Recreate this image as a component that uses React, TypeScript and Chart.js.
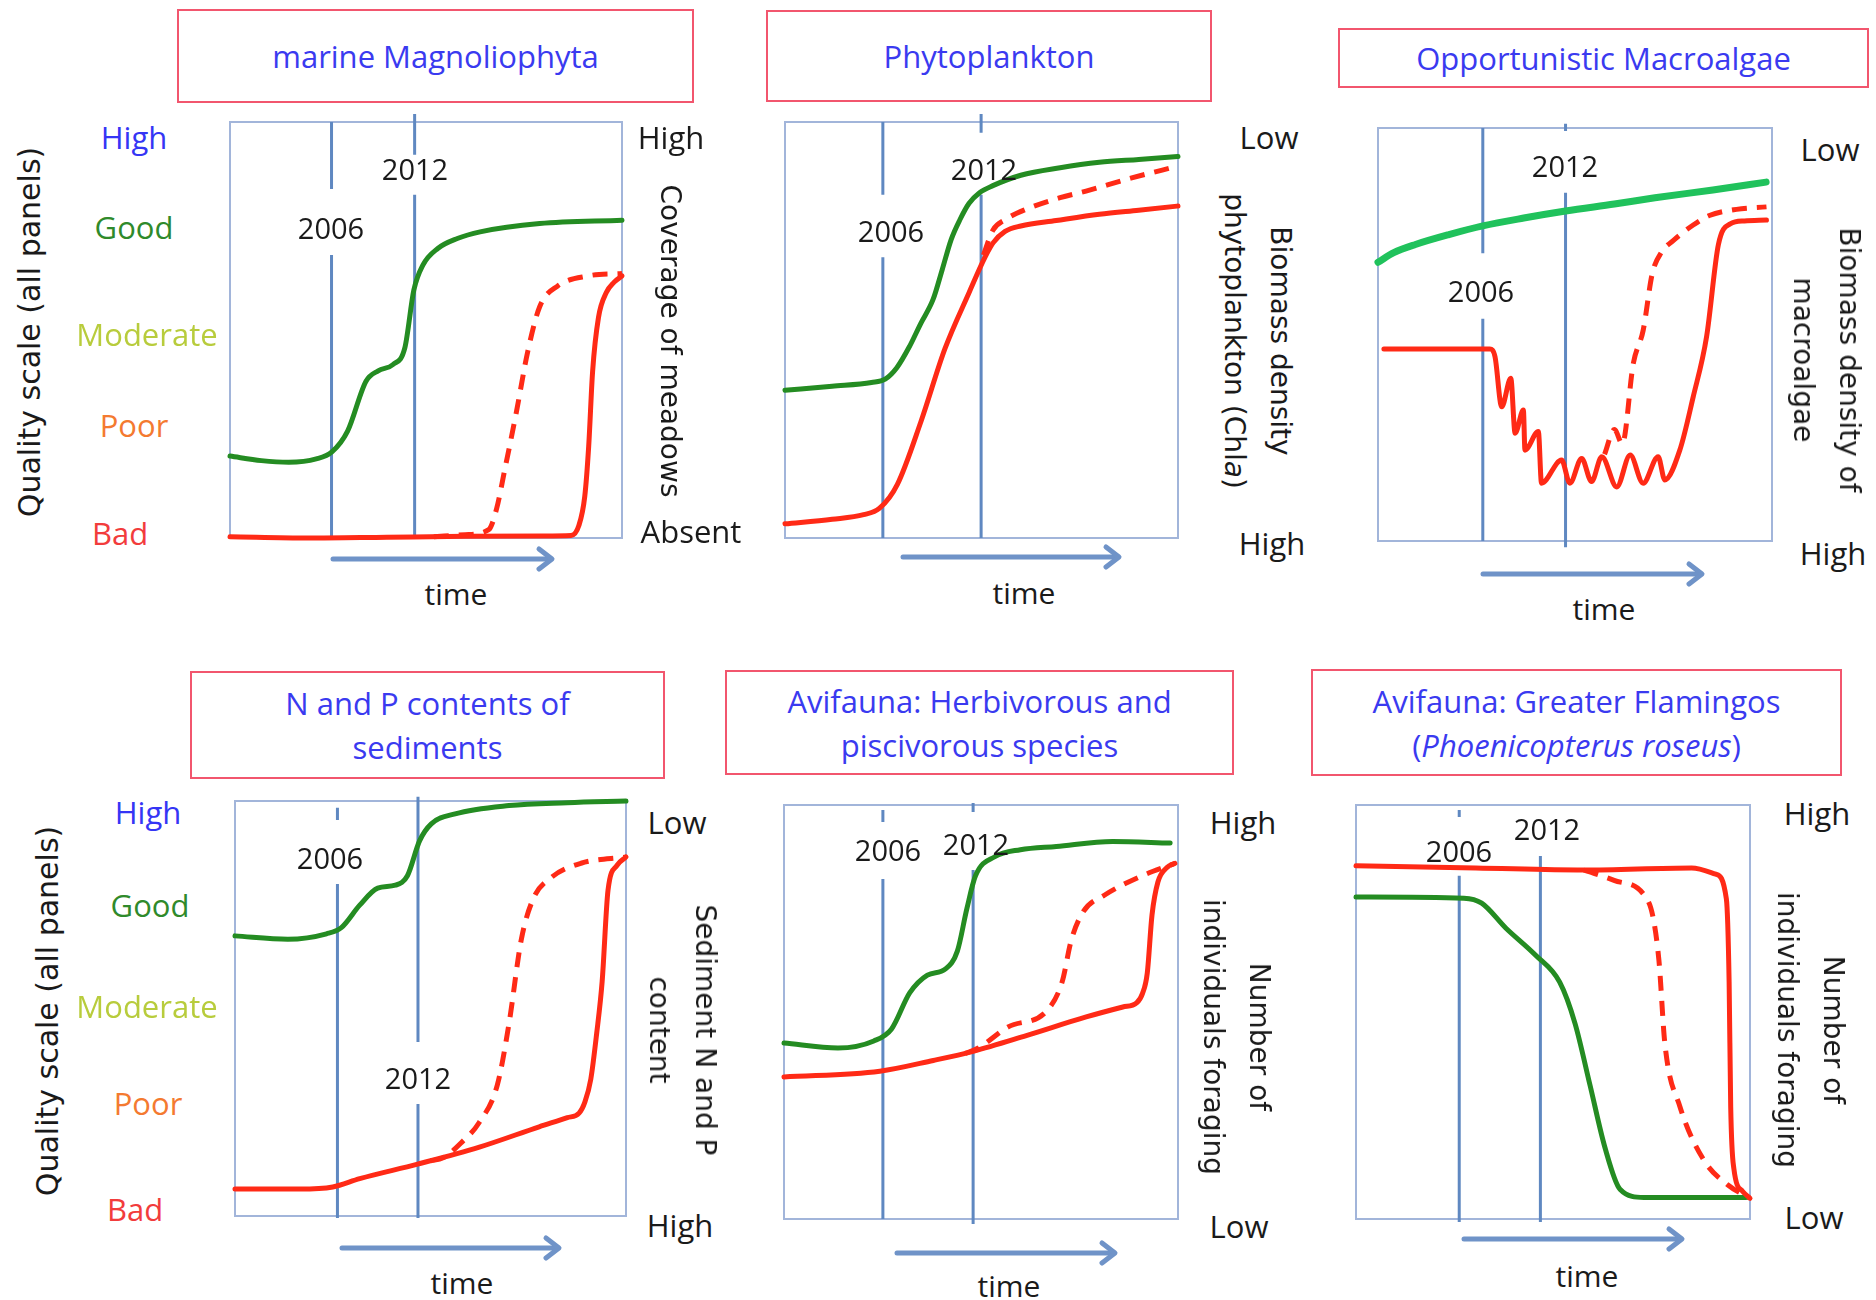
import React, { useEffect, useRef } from "react";
import { Chart, registerables } from "chart.js";
Chart.register(...registerables);

type Pt = [number, number];

// ---------- DATA (x = time 0-100 across panel, y = quality 0-100) ----------
const qualityLevels = ["High", "Good", "Moderate", "Poor", "Bad"];
const yearLabels = ["2006", "2012"];

// Panel 1: marine Magnoliophyta
const magnoGood: Pt[] = [[0, 19.7], [8, 18.6], [15, 18.2], [22, 19], [26, 20.7], [30, 25.7], [34.7, 37.7], [37.8, 40.2], [41.6, 41.7], [44.6, 45.7], [46.9, 59.6], [49.2, 65.6], [53, 69.6], [58, 72], [63.8, 73.6], [79, 75.6], [100, 76.4]];
const magnoBad: Pt[] = [[0, 0.3], [20, 0], [40, 0.2], [60, 0.4], [80, 0.5], [87, 0.6], [89, 3], [90.5, 10], [91.5, 22], [92.5, 40], [94, 53], [96, 59], [98, 61.5], [100, 63]];
const magnoBadAlt: Pt[] = [[52, 0.3], [60, 0.8], [66, 2], [68, 7], [70, 16], [73, 30], [76, 45], [79, 55.6], [83.6, 60.6], [91.3, 63], [100, 63.6]];

// Panel 2: Phytoplankton
const phytoGood: Pt[] = [[0, 35.5], [12, 36.5], [22, 37.4], [25.5, 38.2], [28.5, 41], [31.6, 45.9], [34.5, 51.5], [37.7, 57.4], [40, 64.5], [42.3, 71.8], [44.5, 76.5], [46.8, 80.4], [49.5, 83], [52.9, 84.7], [60, 87.2], [70, 89], [80, 90.3], [90, 91], [100, 91.7]];
const phytoBad: Pt[] = [[0, 3.4], [12, 4.5], [20, 5.6], [24, 7.1], [28.6, 12.9], [34.6, 28], [40.7, 45.5], [46.8, 58.9], [50.9, 67.5], [53, 71], [56, 73.7], [60, 75], [69, 76.3], [80, 77.8], [90, 78.8], [100, 79.8]];
const phytoBadAlt: Pt[] = [[50.5, 68], [52.9, 74], [56, 76.5], [61.3, 79], [70, 81.8], [76.6, 83.4], [88, 86.5], [100, 89.4]];

// Panel 3: Opportunistic Macroalgae
const macroGood: Pt[] = [[0, 67.5], [4, 69.8], [9.5, 71.8], [18, 74.2], [26.6, 76.3], [37, 78.2], [47.6, 79.9], [60, 81.6], [70.3, 83.1], [85, 85], [98.5, 86.9]];
const macroBad: Pt[] = [[1.5, 46.5], [15, 46.5], [28.4, 46.5], [29.7, 44.6], [31.4, 32.5], [33.7, 39.4], [34.8, 26.1], [36.9, 31.7], [37.3, 22], [40.7, 26.5], [41.5, 14], [46.6, 19.6], [48.7, 14], [51.7, 20], [54.2, 14.4], [56.8, 20.4], [60.6, 13.1], [64, 20.8], [67.3, 14], [71.1, 20.4], [72.8, 14.8], [76.6, 22], [80, 34.9], [83.4, 49.5], [86.4, 71.8], [89.4, 76.8], [93, 77.5], [98.6, 77.7]];
const macroBadAlt: Pt[] = [[57.5, 21], [60, 27], [62, 23.5], [64.8, 43], [67.3, 51], [69.6, 64.7], [72, 70], [75, 72.8], [80, 76.5], [84.1, 78.8], [91, 80.3], [98.6, 80.9]];

// Panel 4: N and P contents of sediments
const sedGood: Pt[] = [[0, 67.5], [13.5, 66.7], [23.4, 68], [27.2, 69.5], [31.9, 74.9], [36.5, 79], [41, 79.7], [44.1, 82], [47.2, 90.4], [50.2, 94.5], [56.3, 96.9], [70.1, 98.9], [85, 99.6], [100, 100]];
const sedBad: Pt[] = [[0, 6.5], [16.5, 6.5], [25, 7], [31.9, 9], [46.7, 12.5], [62.5, 16.6], [77.8, 21.5], [85, 23.7], [88, 24.8], [89.5, 27.5], [91, 33], [92.5, 44], [93.9, 56.5], [95.4, 78.5], [97.7, 84.5], [100, 86.5]];
const sedBadAlt: Pt[] = [[50, 13.3], [53.2, 14], [57.8, 17.6], [62.5, 22.6], [67.1, 31.6], [70.1, 46.5], [73.2, 66.5], [76.3, 76.5], [80.8, 81.5], [88.5, 85], [100, 86.5]];

// Panel 5: Avifauna herbivorous / piscivorous
const herbGood: Pt[] = [[0, 42.5], [13.7, 41.3], [22.8, 43], [27.3, 45.9], [31.9, 54.6], [36.4, 58.9], [41, 60.4], [44, 64.7], [46.4, 74.9], [48.6, 82.9], [53.5, 87.5], [60, 89.2], [69.1, 90], [83.4, 91.2], [98, 90.8]];
const herbBad: Pt[] = [[0, 34.3], [24.3, 35.7], [37.9, 38.3], [48, 40.5], [61.5, 44.3], [76.7, 48.8], [86, 51.2], [89.5, 52.2], [91, 54.5], [92.2, 59.4], [93.4, 73.4], [94.9, 81.4], [97.2, 84.9], [99.2, 85.9]];
const herbBadAlt: Pt[] = [[46, 40], [49.3, 41.3], [56.9, 46.4], [66.8, 50.4], [70.6, 57.3], [72.9, 67.3], [76, 74.3], [81.3, 78.2], [90.4, 82.7], [99.2, 85.9]];

// Panel 6: Greater Flamingos
const flamGood: Pt[] = [[0, 77.8], [27.4, 77.5], [31.9, 76.3], [38, 70.3], [45.6, 63.7], [51.7, 57.2], [55.6, 47.2], [59.4, 32.3], [63.2, 17.2], [67, 7.2], [73.1, 5.2], [99, 5.2]];
const flamBad: Pt[] = [[0, 85.3], [30.4, 84.8], [57.8, 84.3], [85.2, 84.8], [91.3, 83.3], [94, 77.3], [94.7, 57.3], [95.1, 27.2], [95.9, 12.2], [98.1, 6.7], [100, 5]];
const flamBadAlt: Pt[] = [[57.8, 84.3], [65.5, 81.8], [73.1, 78.3], [75.3, 73.3], [76.9, 62.3], [78.4, 42.3], [82.2, 27.2], [88.3, 14.2], [94.4, 8.2], [100, 5]];

// Year marker positions (x on the time axis) per panel
const yearsX: Pt[] = [[25.9, 47.1], [24.9, 49.9], [26.6, 47.6], [26.2, 46.8], [25.1, 48.0], [26.2, 46.8]];

// ---------- STYLE ----------
const BLUE_TEXT = "#3a3af0";
const TITLE_BORDER = "#f2566e";
const BOX_COLOR = "#a2b5da";
const YEAR_LINE = "#5f88c1";
const ARROW = "#6f93c8";
const GREEN = "#248c22";
const GREEN_BRIGHT = "#20c25c";
const RED = "#ff2a16";
const QUALITY_COLORS = ["#3535f5", "#2f8a2b", "#b8cc3c", "#f47a30", "#f23c3c"];
const CAL = "'Open Sans', 'Liberation Sans', sans-serif";
const LUC = "'DejaVu Sans', sans-serif";
const M = 20;

interface PanelCfg {
  titleLines: React.ReactNode[];
  titleBox: [number, number, number, number];
  box: [number, number, number, number];
  good: Pt[];
  bad: Pt[];
  badAlt: Pt[];
  goodColor: string;
  goodWidth: number;
  years: Pt;
  yearSegs: [Pt[], Pt[]];
  yearPos: [Pt, Pt];
  rightTop: [string, number, number];
  rightBottom: [string, number, number];
  rotLines: React.ReactNode[];
  rotPos: Pt;
  arrow: [number, number, number];
  time: Pt;
}

const panels: PanelCfg[] = [
  {
    titleLines: ["marine Magnoliophyta"], titleBox: [177, 9, 694, 103], box: [230, 122, 622, 538],
    good: magnoGood, bad: magnoBad, badAlt: magnoBadAlt, goodColor: GREEN, goodWidth: 5,
    years: yearsX[0], yearSegs: [[[100, 83.9], [68, 0]], [[101.9, 92.1], [82.5, 0]]],
    yearPos: [[331, 227], [415, 168]],
    rightTop: ["High", 671, 137], rightBottom: ["Absent", 691, 531],
    rotLines: ["Coverage of meadows"], rotPos: [670, 341], arrow: [333, 552, 559], time: [456, 594],
  },
  {
    titleLines: ["Phytoplankton"], titleBox: [766, 10, 1212, 102], box: [785, 122, 1178, 538],
    good: phytoGood, bad: phytoBad, badAlt: phytoBadAlt, goodColor: GREEN, goodWidth: 5,
    years: yearsX[1], yearSegs: [[[100, 82.5], [67.5, 0]], [[101.9, 97.4], [82.5, 0]]],
    yearPos: [[891, 230], [984, 168]],
    rightTop: ["Low", 1269, 137], rightBottom: ["High", 1272, 543],
    rotLines: ["Biomass density", <span key="c">phytoplankton (Chl<i>a</i>)</span>], rotPos: [1257, 341],
    arrow: [903, 1119, 557], time: [1024, 593],
  },
  {
    titleLines: ["Opportunistic Macroalgae"], titleBox: [1338, 28, 1869, 88], box: [1378, 128, 1772, 541],
    good: macroGood, bad: macroBad, badAlt: macroBadAlt, goodColor: GREEN_BRIGHT, goodWidth: 7,
    years: yearsX[2], yearSegs: [[[100, 69.7], [53.8, 0]], [[101, 99.3], [84.3, -1.5]]],
    yearPos: [[1481, 290], [1565, 165]],
    rightTop: ["Low", 1830, 149], rightBottom: ["High", 1833, 553],
    rotLines: ["Biomass density of", "macroalgae"], rotPos: [1826, 360], arrow: [1483, 1702, 574], time: [1604, 609],
  },
  {
    titleLines: ["N and P contents of", "sediments"], titleBox: [190, 671, 665, 779], box: [235, 801, 626, 1216],
    good: sedGood, bad: sedBad, badAlt: sedBadAlt, goodColor: GREEN, goodWidth: 5,
    years: yearsX[3], yearSegs: [[[98.4, 95.4], [80, -0.5]], [[101, 41.9], [27, -0.5]]],
    yearPos: [[330, 857], [418, 1077]],
    rightTop: ["Low", 677, 822], rightBottom: ["High", 680, 1225],
    rotLines: ["Sediment N and P", "content"], rotPos: [682, 1030], arrow: [342, 559, 1248], time: [462, 1283],
  },
  {
    titleLines: ["Avifauna: Herbivorous and", "piscivorous species"], titleBox: [725, 670, 1234, 775], box: [784, 805, 1178, 1219],
    good: herbGood, bad: herbBad, badAlt: herbBadAlt, goodColor: GREEN, goodWidth: 5,
    years: yearsX[4], yearSegs: [[[98.8, 95.9], [82.1, 0]], [[100.5, 98.3], [84.3, -1.2]]],
    yearPos: [[888, 849], [976, 843]],
    rightTop: ["High", 1243, 822], rightBottom: ["Low", 1239, 1226],
    rotLines: ["Number of", "individuals foraging"], rotPos: [1236, 1037], arrow: [897, 1115, 1253], time: [1009, 1286],
  },
  {
    titleLines: ["Avifauna: Greater Flamingos", <span key="p">(<i>Phoenicopterus roseus</i>)</span>], titleBox: [1311, 669, 1842, 776], box: [1356, 805, 1750, 1219],
    good: flamGood, bad: flamBad, badAlt: flamBadAlt, goodColor: GREEN, goodWidth: 5,
    years: yearsX[5], yearSegs: [[[98.8, 97.1], [82.9, -0.7]], [[87.7, -0.7]]],
    yearPos: [[1459, 850], [1547, 828]],
    rightTop: ["High", 1817, 813], rightBottom: ["Low", 1814, 1217],
    rotLines: ["Number of", "individuals foraging"], rotPos: [1810, 1030], arrow: [1464, 1682, 1239], time: [1587, 1276],
  },
];

const qualityPos: Pt[][] = [
  [[134, 137], [134, 227], [147, 334], [134, 425], [120, 533]],
  [[148, 812], [150, 905], [147, 1006], [148, 1103], [135, 1209]],
];
const qualityTitlePos: Pt[] = [[30, 332], [48, 1011]];

const boxPlugin = {
  id: "panelBox",
  beforeDatasetsDraw(chart: any) {
    const { ctx, chartArea: a } = chart;
    ctx.save();
    ctx.strokeStyle = BOX_COLOR;
    ctx.lineWidth = 2;
    ctx.strokeRect(a.left, a.top, a.right - a.left, a.bottom - a.top);
    ctx.restore();
  },
};

const toXY = (pts: Pt[]) => pts.map(([x, y]) => ({ x, y }));

function PanelChart({ cfg }: { cfg: PanelCfg }) {
  const ref = useRef<HTMLCanvasElement>(null);
  const [l, t, r, b] = cfg.box;
  const w = r - l + 2 * M;
  const h = b - t + 2 * M;
  useEffect(() => {
    const datasets: any[] = [];
    cfg.yearSegs.forEach((segs, i) => {
      const xv = cfg.years[i];
      const pts: any[] = [];
      segs.forEach(([y0, y1], k) => {
        if (k > 0) pts.push({ x: xv, y: null });
        pts.push({ x: xv, y: y0 }, { x: xv, y: y1 });
      });
      datasets.push({ data: pts, borderColor: YEAR_LINE, borderWidth: 3, pointRadius: 0, tension: 0, spanGaps: false, clip: false, order: 10 });
    });
    const curve = (pts: Pt[], color: string, width: number, order: number, dash?: number[]) => ({
      data: toXY(pts), borderColor: color, borderWidth: width, borderDash: dash || [], pointRadius: 0,
      cubicInterpolationMode: "monotone", clip: false, order, borderJoinStyle: "round", borderCapStyle: dash ? "butt" : "round",
    });
    datasets.push(curve(cfg.badAlt, RED, 5, 3, [15, 10]));
    datasets.push(curve(cfg.good, cfg.goodColor, cfg.goodWidth, 2));
    datasets.push(curve(cfg.bad, RED, 5, 1));
    const chart = new Chart(ref.current as HTMLCanvasElement, {
      type: "line",
      data: { datasets },
      options: {
        animation: false,
        responsive: false,
        devicePixelRatio: 1,
        layout: { padding: M },
        scales: {
          x: { type: "linear", min: 0, max: 100, display: false },
          y: { type: "linear", min: 0, max: 100, display: false },
        },
        plugins: { legend: { display: false }, tooltip: { enabled: false } },
        elements: { point: { radius: 0 } },
      } as any,
      plugins: [boxPlugin],
    });
    return () => chart.destroy();
  }, []);
  return (
    <canvas ref={ref} width={w} height={h}
      style={{ position: "absolute", left: l - M, top: t - M, width: w, height: h }} />
  );
}

const abs = (x: number, y: number, extra: React.CSSProperties = {}): React.CSSProperties => ({
  position: "absolute", left: x, top: y, transform: "translate(-50%,-50%)", whiteSpace: "nowrap", lineHeight: 1, ...extra,
});

export default function App() {
  return (
    <div style={{ position: "absolute", left: 0, top: 0, width: 1876, height: 1300, background: "#fff", overflow: "hidden" }}>
      {panels.map((p, i) => {
        const [tl, tt, tr, tb] = p.titleBox;
        return (
          <React.Fragment key={i}>
            <div style={{
              position: "absolute", left: tl, top: tt, width: tr - tl, height: tb - tt, boxSizing: "border-box",
              border: `2px solid ${TITLE_BORDER}`, display: "flex", flexDirection: "column", alignItems: "center",
              justifyContent: "center", color: BLUE_TEXT, fontFamily: CAL, fontSize: 31, lineHeight: "44px",
            }}>
              {p.titleLines.map((ln, k) => <div key={k}>{ln}</div>)}
            </div>
            <PanelChart cfg={p} />
            {p.yearPos.map(([x, y], k) => (
              <div key={k} style={abs(x, y, { fontFamily: CAL, fontSize: 29, color: "#1a1a1a" })}>{yearLabels[k]}</div>
            ))}
            <div style={abs(p.rightTop[1], p.rightTop[2], { fontFamily: CAL, fontSize: 31, color: "#1a1a1a" })}>{p.rightTop[0]}</div>
            <div style={abs(p.rightBottom[1], p.rightBottom[2], { fontFamily: CAL, fontSize: 31, color: "#1a1a1a" })}>{p.rightBottom[0]}</div>
            <div style={abs(p.rotPos[0], p.rotPos[1], {
              transform: "translate(-50%,-50%) rotate(90deg)", fontFamily: LUC, fontSize: 28, lineHeight: "46px",
              textAlign: "center", color: "#1a1a1a",
            })}>
              {p.rotLines.map((ln, k) => <div key={k}>{ln}</div>)}
            </div>
            <div style={abs(p.time[0], p.time[1], { fontFamily: CAL, fontSize: 30, color: "#1a1a1a" })}>time</div>
          </React.Fragment>
        );
      })}
      {qualityPos.map((row, r) => (
        <React.Fragment key={"q" + r}>
          {row.map(([x, y], k) => (
            <div key={k} style={abs(x, y, { fontFamily: CAL, fontSize: 31, color: QUALITY_COLORS[k] })}>{qualityLevels[k]}</div>
          ))}
          <div style={abs(qualityTitlePos[r][0], qualityTitlePos[r][1], {
            transform: "translate(-50%,-50%) rotate(-90deg)", fontFamily: LUC, fontSize: 30, color: "#1a1a1a",
          })}>Quality scale (all panels)</div>
        </React.Fragment>
      ))}
      <svg width={1876} height={1300} style={{ position: "absolute", left: 0, top: 0, pointerEvents: "none" }}>
        {panels.map((p, i) => {
          const [x1, x2, y] = p.arrow;
          return (
            <g key={i} stroke={ARROW} strokeWidth={5} fill="none" strokeLinecap="round" strokeLinejoin="round">
              <line x1={x1} y1={y} x2={x2 - 2} y2={y} />
              <polyline points={`${x2 - 13},${y - 10} ${x2},${y} ${x2 - 13},${y + 10}`} />
            </g>
          );
        })}
      </svg>
    </div>
  );
}
